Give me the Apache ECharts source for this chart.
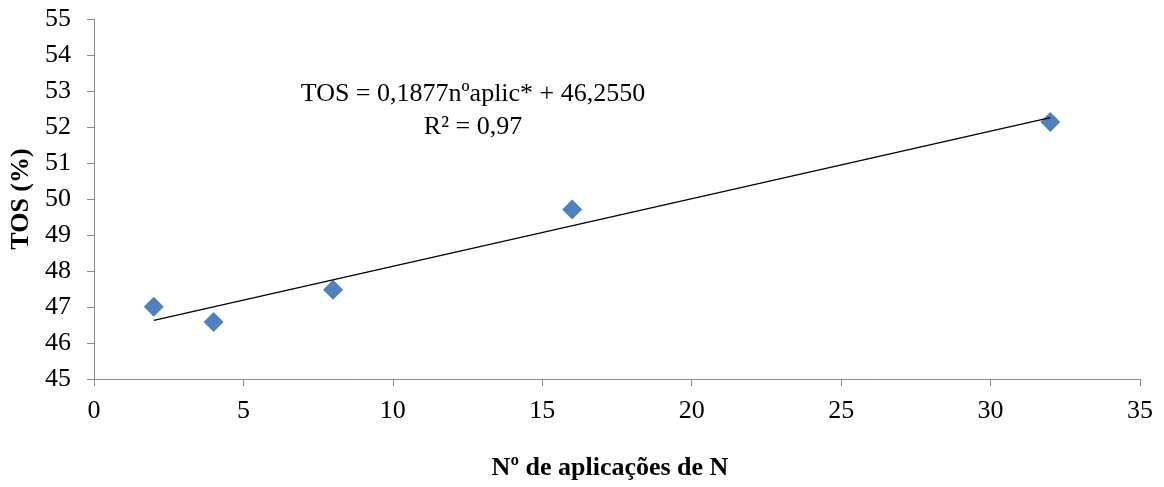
<!DOCTYPE html>
<html>
<head>
<meta charset="utf-8">
<script src="https://cdn.jsdelivr.net/npm/echarts@6/dist/echarts.min.js"></script>
<style>
  html, body { margin: 0; padding: 0; background: #fff; }
  #chart { width: 1164px; height: 487px; }
</style>
</head>
<body>
<div id="chart"></div>
<script>
// Number of N applications and measured TOS (%)
var applications = [2, 4, 8, 16, 32];
var tosValues = [47.01, 46.58, 47.48, 49.71, 52.14];

// Linear fit reported in the annotation
var slope = 0.1877;
var intercept = 46.2550;
var equationLines = ['TOS = 0,1877nºaplic* + 46,2550', 'R² = 0,97'];

var xTicks = [0, 5, 10, 15, 20, 25, 30, 35];
var yTicks = [45, 46, 47, 48, 49, 50, 51, 52, 53, 54, 55];

var xMin = Math.min.apply(null, applications);
var xMax = Math.max.apply(null, applications);
var trend = [
  [xMin, intercept + slope * xMin],
  [xMax, intercept + slope * xMax]
];

var serif = '"Liberation Serif", "Times New Roman", serif';
var axisGray = '#8c8c8c';

var chart = echarts.init(document.getElementById('chart'), null, { renderer: 'canvas' });
chart.setOption({
  backgroundColor: '#ffffff',
  animation: false,
  grid: { left: 94, right: 24, top: 19, bottom: 108, containLabel: false },
  xAxis: {
    type: 'value',
    min: xTicks[0],
    max: xTicks[xTicks.length - 1],
    interval: 5,
    name: 'Nº de aplicações de N',
    nameLocation: 'middle',
    nameGap: 76,
    nameTextStyle: { fontFamily: serif, fontSize: 26, fontWeight: 'bold', color: '#000', padding: [0, 14, 0, 0] },
    axisLine: { show: true, lineStyle: { color: axisGray, width: 1 } },
    axisTick: { show: true, length: 7, inside: false, lineStyle: { color: axisGray } },
    axisLabel: { fontFamily: serif, fontSize: 26, color: '#000', margin: 19 },
    splitLine: { show: false }
  },
  yAxis: {
    type: 'value',
    min: yTicks[0],
    max: yTicks[yTicks.length - 1],
    interval: 1,
    name: 'TOS (%)',
    nameLocation: 'middle',
    nameGap: 55,
    nameRotate: 90,
    nameTextStyle: { fontFamily: serif, fontSize: 26, fontWeight: 'bold', color: '#000' },
    axisLine: { show: true, lineStyle: { color: axisGray, width: 1 } },
    axisTick: { show: true, length: 7, inside: false, lineStyle: { color: axisGray } },
    axisLabel: { fontFamily: serif, fontSize: 26, color: '#000', margin: 23 },
    splitLine: { show: false }
  },
  series: [
    {
      type: 'line',
      data: trend,
      symbol: 'none',
      lineStyle: { color: '#000', width: 1.3 },
      silent: true,
      z: 3
    },
    {
      type: 'scatter',
      data: applications.map(function (x, i) { return [x, tosValues[i]]; }),
      symbol: 'diamond',
      symbolSize: [20, 20],
      itemStyle: { color: '#4f81bd', opacity: 1 },
      z: 2
    }
  ],
  graphic: [
    {
      type: 'text',
      x: 473,
      y: 78,
      style: {
        text: equationLines.join('\n'),
        textAlign: 'center',
        font: '26px ' + serif,
        fill: '#000',
        lineHeight: 33
      }
    }
  ]
});
</script>
</body>
</html>
